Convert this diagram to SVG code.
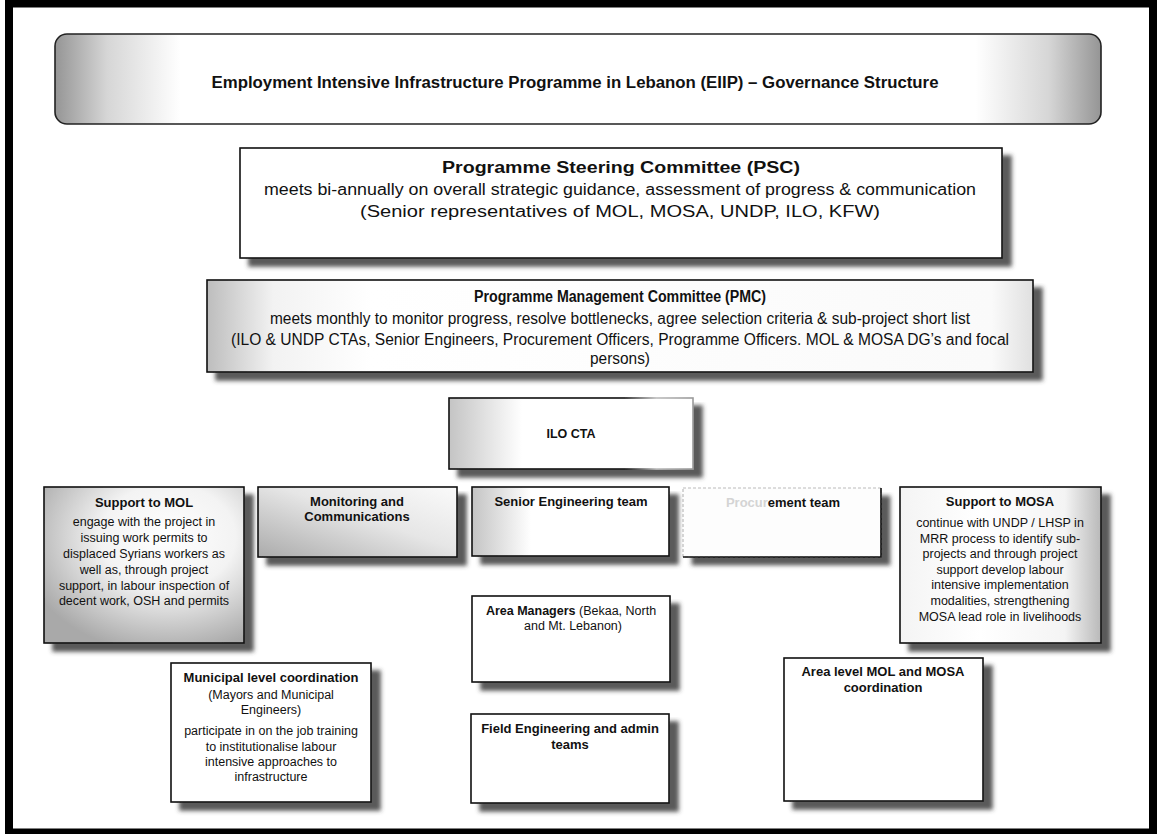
<svg xmlns="http://www.w3.org/2000/svg" width="1157" height="834" viewBox="0 0 1157 834">
<defs>
<style>
.t{font-family:"Liberation Sans",Arial,sans-serif;fill:#111;text-anchor:middle}
.n{font-family:"Liberation Sans Narrow","Liberation Sans",Arial,sans-serif;fill:#111;text-anchor:middle;font-size:16px}
.b{font-weight:bold}
.s{font-size:12.5px}
.h{font-size:13px;font-weight:bold}
.box{stroke:#111;stroke-width:1.6}
</style>
<filter id="sh" x="-5%" y="-5%" width="120%" height="130%">
<feGaussianBlur in="SourceAlpha" stdDeviation="2.2"/>
<feOffset dx="9" dy="8" result="o"/>
<feFlood flood-color="#3c3c3c" flood-opacity="0.85"/>
<feComposite in2="o" operator="in"/>
<feMerge><feMergeNode/><feMergeNode in="SourceGraphic"/></feMerge>
</filter>
<linearGradient id="gBanner" x1="0" y1="0" x2="1" y2="0">
<stop offset="0" stop-color="#959595"/><stop offset="0.05" stop-color="#d6d6d6"/><stop offset="0.12" stop-color="#fff"/>
<stop offset="0.88" stop-color="#fff"/><stop offset="0.95" stop-color="#d6d6d6"/><stop offset="1" stop-color="#959595"/>
</linearGradient>
<linearGradient id="gLeft" x1="0" y1="0" x2="1" y2="0">
<stop offset="0" stop-color="#bdbdbd"/><stop offset="0.08" stop-color="#f2f2f2"/><stop offset="0.2" stop-color="#fff"/><stop offset="0.95" stop-color="#fafafa"/><stop offset="1" stop-color="#e0e0e0"/>
</linearGradient>
<linearGradient id="gLeft2" x1="0" y1="0" x2="1" y2="0">
<stop offset="0" stop-color="#c4c4c4"/><stop offset="0.3" stop-color="#fff"/><stop offset="1" stop-color="#fff"/>
</linearGradient>
<radialGradient id="gMol" cx="0.62" cy="0.32" r="0.75">
<stop offset="0" stop-color="#fff"/><stop offset="0.45" stop-color="#f3f3f3"/><stop offset="1" stop-color="#a9a9a9"/>
</radialGradient>
<linearGradient id="gMon" x1="0" y1="1" x2="1" y2="0">
<stop offset="0" stop-color="#ababab"/><stop offset="0.55" stop-color="#e6e6e6"/><stop offset="1" stop-color="#fafafa"/>
</linearGradient>
<linearGradient id="gMosa" x1="0" y1="0" x2="1" y2="0">
<stop offset="0" stop-color="#f4f4f4"/><stop offset="0.4" stop-color="#fff"/><stop offset="0.82" stop-color="#f4f4f4"/><stop offset="1" stop-color="#b9b9b9"/>
</linearGradient>
<linearGradient id="gFade" x1="0" y1="0" x2="1" y2="0">
<stop offset="0" stop-color="#111"/><stop offset="0.72" stop-color="#111"/><stop offset="0.85" stop-color="#bbb"/><stop offset="1" stop-color="#999"/>
</linearGradient>
</defs>

<rect x="0" y="0" width="1157" height="834" fill="#fff"/>
<rect id="frame" x="9" y="3.5" width="1144" height="829" fill="none" stroke="#000" stroke-width="8"/>

<g id="title">
<rect x="55" y="34" width="1046" height="90" rx="12" fill="url(#gBanner)" stroke="#222" stroke-width="1.6"/>
<text class="n b" x="575" y="88" font-size="17" textLength="727" lengthAdjust="spacingAndGlyphs">Employment Intensive Infrastructure Programme in Lebanon (EIIP) – Governance Structure</text>
</g>

<g id="psc">
<rect class="box" x="240" y="148" width="762" height="110" fill="#fff" filter="url(#sh)"/>
<text class="n b" x="621" y="173" textLength="358" lengthAdjust="spacingAndGlyphs">Programme Steering Committee (PSC)</text>
<text class="n" x="620" y="195" textLength="712" lengthAdjust="spacingAndGlyphs">meets bi-annually on overall strategic guidance, assessment of progress &amp; communication</text>
<text class="n" x="620" y="217" textLength="520" lengthAdjust="spacingAndGlyphs">(Senior representatives of MOL, MOSA, UNDP, ILO, KFW)</text>
</g>

<g id="pmc">
<rect class="box" x="207" y="280" width="826" height="92" fill="url(#gLeft)" filter="url(#sh)"/>
<text class="n b" x="620" y="302" font-size="15" textLength="292" lengthAdjust="spacingAndGlyphs">Programme Management Committee (PMC)</text>
<text class="n" x="620" y="324" textLength="700" lengthAdjust="spacingAndGlyphs">meets monthly to monitor progress, resolve bottlenecks, agree selection criteria &amp; sub-project short list</text>
<text class="n" x="620" y="345" textLength="778" lengthAdjust="spacingAndGlyphs">(ILO &amp; UNDP CTAs, Senior Engineers, Procurement Officers, Programme Officers. MOL &amp; MOSA DG’s and focal</text>
<text class="n" x="620" y="364" textLength="60" lengthAdjust="spacingAndGlyphs">persons)</text>
</g>

<g id="ilo-cta">
<rect x="449" y="398" width="244" height="71" fill="url(#gLeft2)" stroke="url(#gFade)" stroke-width="1.6" filter="url(#sh)"/>
<text class="t b" x="571" y="438" font-size="12.5">ILO CTA</text>
</g>

<g id="support-mol">
<rect class="box" x="44" y="487" width="200" height="156" fill="url(#gMol)" filter="url(#sh)"/>
<text class="t h" x="144" y="507">Support to MOL</text>
<text class="t s" x="144" y="526">engage with the project in</text>
<text class="t s" x="144" y="542">issuing work permits to</text>
<text class="t s" x="144" y="558">displaced Syrians workers as</text>
<text class="t s" x="144" y="574">well as, through project</text>
<text class="t s" x="144" y="590">support, in labour inspection of</text>
<text class="t s" x="144" y="605">decent work, OSH and permits</text>
</g>

<g id="monitoring">
<rect class="box" x="258" y="487" width="199" height="70" fill="url(#gMon)" filter="url(#sh)"/>
<text class="t h" x="357" y="506">Monitoring and</text>
<text class="t h" x="357" y="521">Communications</text>
</g>

<g id="senior-eng">
<rect class="box" x="472" y="487" width="197" height="69" fill="url(#gLeft2)" filter="url(#sh)"/>
<text class="t h" x="571" y="506">Senior Engineering team</text>
</g>

<g id="procurement">
<rect x="683" y="488" width="198" height="69" fill="#fdfdfd" stroke="#bbb" stroke-width="1.2" stroke-dasharray="3 2" filter="url(#sh)"/>
<path d="M881 488 V557 H683" fill="none" stroke="#111" stroke-width="1.6"/>
<text class="t h" x="783" y="507"><tspan fill="#d4d4d4">Procur</tspan>ement team</text>
</g>

<g id="support-mosa">
<rect class="box" x="900" y="487" width="201" height="156" fill="url(#gMosa)" filter="url(#sh)"/>
<text class="t h" x="1000" y="506">Support to MOSA</text>
<text class="t s" x="1000" y="527">continue with UNDP / LHSP in</text>
<text class="t s" x="1000" y="543">MRR process to identify sub-</text>
<text class="t s" x="1000" y="558">projects and through project</text>
<text class="t s" x="1000" y="574">support develop labour</text>
<text class="t s" x="1000" y="589">intensive implementation</text>
<text class="t s" x="1000" y="605">modalities, strengthening</text>
<text class="t s" x="1000" y="621">MOSA lead role in livelihoods</text>
</g>

<g id="area-managers">
<rect class="box" x="472" y="596" width="198" height="86" fill="#fff" filter="url(#sh)"/>
<text class="t s" x="571" y="615"><tspan font-weight="bold">Area Managers</tspan> (Bekaa, North</text>
<text class="t s" x="573" y="630">and Mt. Lebanon)</text>
</g>

<g id="field-eng">
<rect class="box" x="471" y="714" width="198" height="89" fill="#fff" filter="url(#sh)"/>
<text class="t h" x="570" y="733">Field Engineering and admin</text>
<text class="t h" x="570" y="749">teams</text>
</g>

<g id="municipal">
<rect class="box" x="171" y="663" width="200" height="139" fill="#fff" filter="url(#sh)"/>
<text class="t h" x="271" y="682">Municipal level coordination</text>
<text class="t s" x="271" y="699">(Mayors and Municipal</text>
<text class="t s" x="271" y="714">Engineers)</text>
<text class="t s" x="271" y="735">participate in on the job training</text>
<text class="t s" x="271" y="751">to institutionalise labour</text>
<text class="t s" x="271" y="766">intensive approaches to</text>
<text class="t s" x="271" y="781">infrastructure</text>
</g>

<g id="area-level">
<rect class="box" x="784" y="658" width="199" height="143" fill="#fff" filter="url(#sh)"/>
<text class="t h" x="883" y="676">Area level MOL and MOSA</text>
<text class="t h" x="883" y="692">coordination</text>
</g>

<g id="connectors"></g>
</svg>
